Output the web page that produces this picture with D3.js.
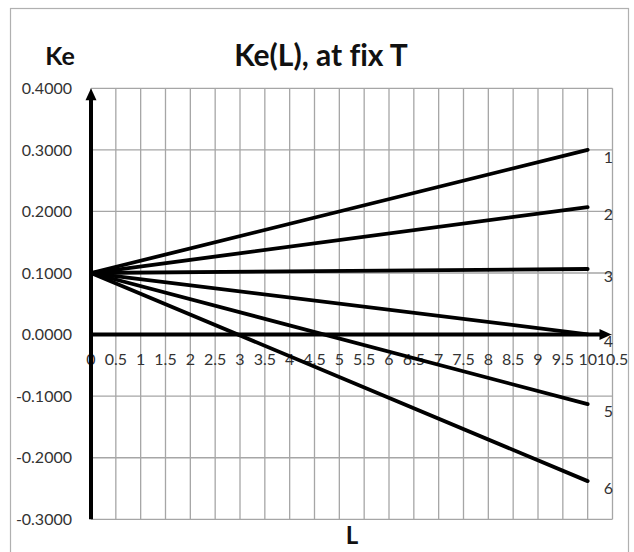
<!DOCTYPE html>
<html>
<head>
<meta charset="utf-8">
<script src="https://cdn.jsdelivr.net/npm/d3@7"></script>
<style>
  body { margin: 0; background: #fff; }
  svg { display: block; }
  text { font-variant-ligatures: none; font-feature-settings: "liga" 0; }
</style>
</head>
<body>
<svg id="chart" width="634" height="552"></svg>
<script>
// Ke as a function of L at fixed T, six curves
const lengthL = [0, 10];
const curve1 = [0.1000, 0.3000];
const curve2 = [0.1000, 0.2070];
const curve3 = [0.1000, 0.1065];
const curve4 = [0.1000, 0.0005];
const curve5 = [0.1000, -0.1130];
const curve6 = [0.1000, -0.2380];
const curveNames = ["1", "2", "3", "4", "5", "6"];

const xTickValues = [0, 0.5, 1, 1.5, 2, 2.5, 3, 3.5, 4, 4.5, 5, 5.5, 6, 6.5, 7, 7.5, 8, 8.5, 9, 9.5, 10, 10.5];
const xTickLabels = ["0", "0.5", "1", "1.5", "2", "2.5", "3", "3.5", "4", "4.5", "5", "5.5", "6", "6.5", "7", "7.5", "8", "8.5", "9", "9.5", "10", "10.5"];
const yTickValues = [0.4, 0.3, 0.2, 0.1, 0, -0.1, -0.2, -0.3];
const yTickLabels = ["0.4000", "0.3000", "0.2000", "0.1000", "0.0000", "-0.1000", "-0.2000", "-0.3000"];

const curves = [curve1, curve2, curve3, curve4, curve5, curve6];

const svg = d3.select("#chart");
const font = "Lato, 'Open Sans', sans-serif";

const x = d3.scaleLinear().domain([0, 10.5]).range([91, 612.5]);
const y = d3.scaleLinear().domain([-0.3, 0.4]).range([519.3, 88.3]);

// outer frame
svg.append("rect")
  .attr("x", 10.5).attr("y", 8.5)
  .attr("width", 618).attr("height", 560)
  .attr("fill", "none").attr("stroke", "#b0b0b0").attr("stroke-width", 1.2);

// grid
const grid = svg.append("g").attr("stroke", "#a6a6a6").attr("stroke-width", 1.3);
grid.selectAll("line.v").data(xTickValues).join("line")
  .attr("class", "v")
  .attr("x1", d => x(d)).attr("x2", d => x(d))
  .attr("y1", y(0.4)).attr("y2", y(-0.3));
grid.selectAll("line.h").data(yTickValues).join("line")
  .attr("class", "h")
  .attr("x1", x(0)).attr("x2", x(10.5))
  .attr("y1", d => y(d)).attr("y2", d => y(d));

// y tick labels
svg.append("g").selectAll("text").data(yTickValues).join("text")
  .attr("x", 72).attr("y", d => y(d))
  .attr("dy", "0.36em")
  .attr("text-anchor", "end")
  .attr("font-family", font).attr("font-size", 16)
  .attr("fill", "#333")
  .text((d, i) => yTickLabels[i]);

// x tick labels along the zero line
svg.append("g").selectAll("text").data(xTickValues).join("text")
  .attr("x", d => x(d)).attr("y", y(0) + 25)
  .attr("dy", "0.36em")
  .attr("text-anchor", "middle")
  .attr("font-family", font).attr("font-size", 16)
  .attr("fill", "#333")
  .text((d, i) => xTickLabels[i]);

// axes with arrow heads
const axes = svg.append("g").attr("stroke", "#000").attr("stroke-width", 4);
axes.append("line")
  .attr("x1", x(0)).attr("x2", x(0))
  .attr("y1", y(-0.3)).attr("y2", y(0.4) + 8);
axes.append("line")
  .attr("x1", x(0) - 2).attr("x2", x(10.5) - 8)
  .attr("y1", y(0)).attr("y2", y(0));
svg.append("path")
  .attr("d", `M${x(0)},${y(0.4)} L${x(0) - 5.5},${y(0.4) + 12} L${x(0) + 5.5},${y(0.4) + 12} Z`)
  .attr("fill", "#000");
svg.append("path")
  .attr("d", `M${x(10.5) - 1},${y(0)} L${x(10.5) - 13},${y(0) - 5.5} L${x(10.5) - 13},${y(0) + 5.5} Z`)
  .attr("fill", "#000");

// curves
const line = d3.line().x((d, i) => x(lengthL[i])).y(d => y(d));
svg.append("g").selectAll("path").data(curves).join("path")
  .attr("d", d => line(d))
  .attr("fill", "none").attr("stroke", "#000")
  .attr("stroke-width", 3.8).attr("stroke-linecap", "round");

// curve numbers at the right end
svg.append("g").selectAll("text").data(curves).join("text")
  .attr("x", x(10.5) - 4)
  .attr("y", d => y(d[d.length - 1]) + 7)
  .attr("dy", "0.36em")
  .attr("text-anchor", "middle")
  .attr("font-family", font).attr("font-size", 16)
  .attr("fill", "#333")
  .text((d, i) => curveNames[i]);

// titles
svg.append("text")
  .attr("x", 321).attr("y", 66)
  .attr("text-anchor", "middle")
  .attr("font-family", font).attr("font-weight", "bold").attr("font-size", 30)
  .attr("fill", "#111")
  .text("Ke(L), at fix T");
svg.append("text")
  .attr("x", 60).attr("y", 65)
  .attr("text-anchor", "middle")
  .attr("font-family", font).attr("font-weight", "bold").attr("font-size", 25)
  .attr("fill", "#111")
  .text("Ke");
svg.append("text")
  .attr("x", 352).attr("y", 544)
  .attr("text-anchor", "middle")
  .attr("font-family", font).attr("font-weight", "bold").attr("font-size", 24)
  .attr("fill", "#111")
  .text("L");
</script>
</body>
</html>
